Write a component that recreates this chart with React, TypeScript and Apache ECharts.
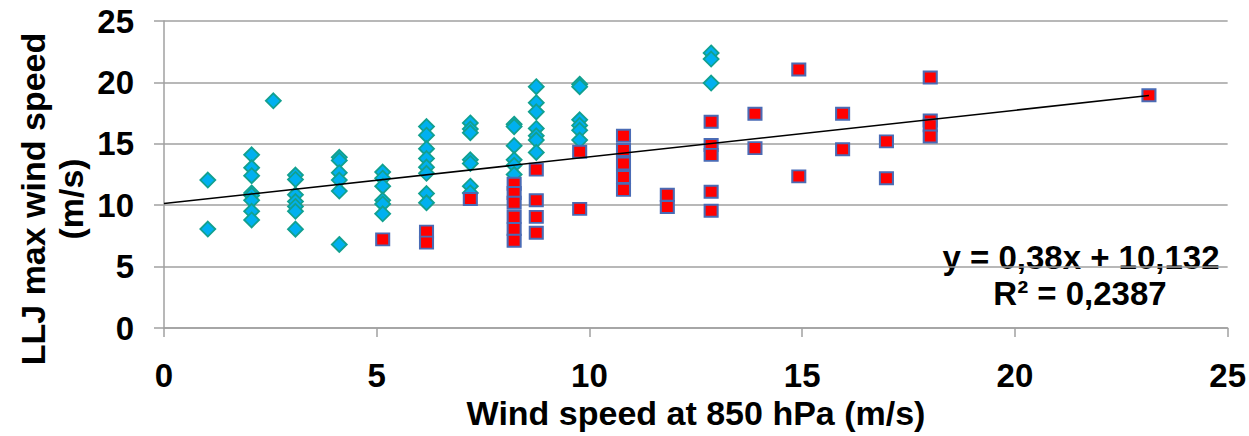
import React, { useEffect, useRef } from "react";
import * as echarts from "echarts";

// Blue diamonds (x, y) pairs
const blueX = [
  1.03, 1.03,
  2.06, 2.06, 2.06, 2.06, 2.06, 2.06, 2.06, 2.06,
  2.57,
  3.09, 3.09, 3.09, 3.09, 3.09, 3.09, 3.09,
  4.12, 4.12, 4.12, 4.12, 4.12, 4.12,
  5.14, 5.14, 5.14, 5.14, 5.14, 5.14,
  6.17, 6.17, 6.17, 6.17, 6.17, 6.17, 6.17, 6.17,
  7.2, 7.2, 7.2, 7.2, 7.2, 7.2, 7.2,
  8.23, 8.23, 8.23, 8.23, 8.23, 8.23,
  8.75, 8.75, 8.75, 8.75, 8.75, 8.75, 8.75,
  9.77, 9.77, 9.77, 9.77, 9.77, 9.77,
  12.86, 12.86, 12.86,
];
const blueY = [
  12.05, 8.06,
  14.1, 13.05, 12.4, 11.0, 10.8, 10.4, 9.5, 8.8,
  18.5,
  12.45, 12.1, 10.85, 10.3, 9.9, 9.5, 8.05,
  13.9, 13.65, 12.65, 12.05, 11.15, 6.8,
  12.7, 12.2, 11.55, 10.4, 10.1, 9.3,
  16.4, 15.7, 14.6, 13.8, 13.1, 12.6, 10.95, 10.2,
  16.7, 16.2, 15.9, 13.7, 13.4, 11.55, 11.0,
  16.6, 16.4, 14.85, 13.7, 13.25, 12.5,
  19.65, 18.35, 17.6, 16.25, 15.65, 15.3, 14.3,
  19.85, 19.65, 16.95, 16.5, 16.1, 15.3,
  22.4, 21.9, 19.95,
];

// Red squares (x, y) pairs
const redX = [
  5.14,
  6.17, 6.17,
  7.2,
  8.23, 8.23, 8.23, 8.23, 8.23, 8.23,
  8.75, 8.75, 8.75, 8.75,
  9.77, 9.77,
  10.8, 10.8, 10.8, 10.8, 10.8,
  11.83, 11.83,
  12.86, 12.86, 12.86, 12.86, 12.86,
  13.89, 13.89,
  14.92, 14.92,
  15.95, 15.95,
  16.98, 16.98,
  18.01, 18.01, 18.01, 18.01,
  23.15,
];
const redY = [
  7.22,
  7.85, 6.95,
  10.5,
  11.75, 11.0, 10.2, 9.05, 8.05, 7.1,
  12.9, 10.4, 9.05, 7.75,
  14.35, 9.7,
  15.65, 14.5, 13.4, 12.3, 11.25,
  10.85, 9.85,
  16.8, 14.9, 14.1, 11.1, 9.55,
  17.45, 14.65,
  21.05, 12.35,
  17.45, 14.55,
  15.2, 12.2,
  20.4, 16.9, 16.5, 15.6,
  18.95,
];

// Linear trendline end points
const trendX = [0, 23.15];
const trendY = [10.132, 18.93];

const xTicks = [0, 25, 5];
const yTicks = [0, 25, 5];

const equationText = "y = 0,38x + 10,132";
const r2Text = "R² = 0,2387";
const xTitle = "Wind speed at 850 hPa (m/s)";
const yTitle = "LLJ max wind speed\n(m/s)";

const FONT = "'Liberation Sans', Arial, sans-serif";

export default function App() {
  const ref = useRef<HTMLDivElement>(null);
  useEffect(() => {
    document.body.style.margin = "0";
    if (!ref.current) return;
    const chart = echarts.init(ref.current, undefined, { renderer: "svg" });
    const axisGray = "#A0A0A0";
    const labelStyle = {
      color: "#000",
      fontWeight: "bold" as const,
      fontSize: 33,
      fontFamily: FONT,
    };
    chart.setOption({
      animation: false,
      backgroundColor: "#fff",
      grid: { left: 164, right: 20, top: 21, bottom: 108, containLabel: false },
      xAxis: {
        type: "value",
        min: xTicks[0],
        max: xTicks[1],
        interval: xTicks[2],
        axisLine: { show: true, lineStyle: { color: axisGray, width: 1.5 } },
        axisTick: { show: true, length: 9, lineStyle: { color: axisGray, width: 1.5 } },
        splitLine: { show: false },
        axisLabel: { ...labelStyle, margin: 31 },
      },
      yAxis: {
        type: "value",
        min: yTicks[0],
        max: yTicks[1],
        interval: yTicks[2],
        axisLine: { show: true, lineStyle: { color: axisGray, width: 1.5 } },
        axisTick: { show: true, length: 10, lineStyle: { color: axisGray, width: 1.5 } },
        splitLine: { show: true, lineStyle: { color: axisGray, width: 1.5 } },
        axisLabel: { ...labelStyle, margin: 30 },
      },
      series: [
        {
          type: "scatter",
          symbol: "diamond",
          symbolSize: [15, 15],
          data: blueX.map((x, i) => [x, blueY[i]]),
          itemStyle: { color: "#00B0F0", borderColor: "#12A08F", borderWidth: 1.8, opacity: 1 },
          z: 3,
        },
        {
          type: "scatter",
          symbol: "rect",
          symbolSize: [13, 12],
          data: redX.map((x, i) => [x, redY[i]]),
          itemStyle: { color: "#FF0000", borderColor: "#4A6BB5", borderWidth: 2, opacity: 1 },
          z: 4,
        },
        {
          type: "line",
          data: trendX.map((x, i) => [x, trendY[i]]),
          symbol: "none",
          lineStyle: { color: "#000", width: 1.5 },
          z: 5,
        },
      ],
      graphic: [
        {
          type: "text",
          x: 52,
          y: 199,
          rotation: Math.PI / 2,
          style: {
            text: yTitle,
            fill: "#000",
            font: `bold 34px ${FONT}`,
            textAlign: "center",
            textVerticalAlign: "middle",
            lineHeight: 38,
          },
        },
        {
          type: "text",
          x: 696,
          y: 413,
          style: {
            text: xTitle,
            fill: "#000",
            font: `bold 34px ${FONT}`,
            textAlign: "center",
            textVerticalAlign: "middle",
          },
        },
        {
          type: "text",
          x: 1081,
          y: 257,
          style: {
            text: equationText,
            fill: "#000",
            font: `bold 33px ${FONT}`,
            textAlign: "center",
            textVerticalAlign: "middle",
          },
        },
        {
          type: "text",
          x: 1080,
          y: 293,
          style: {
            text: r2Text,
            fill: "#000",
            font: `bold 33px ${FONT}`,
            textAlign: "center",
            textVerticalAlign: "middle",
          },
        },
      ],
    });
    return () => chart.dispose();
  }, []);
  return <div ref={ref} style={{ width: 1249, height: 436 }} />;
}
